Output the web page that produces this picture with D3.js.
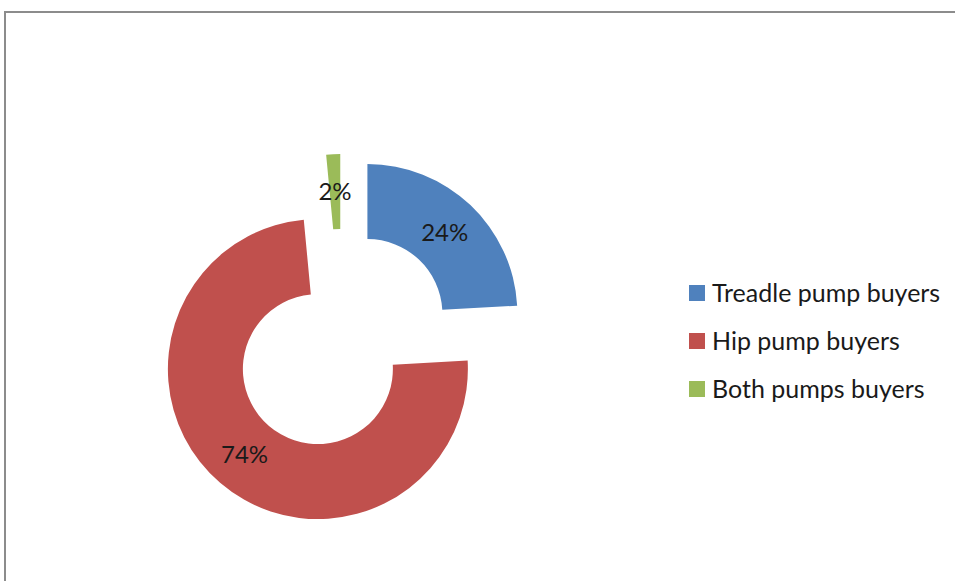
<!DOCTYPE html>
<html>
<head>
<meta charset="utf-8">
<script src="https://cdn.jsdelivr.net/npm/d3@7"></script>
<style>
    body { margin: 0; background: #fff; }
    svg { display: block; font-family: Lato, "Open Sans", sans-serif; }
</style>
</head>
<body>
<div id="chart"></div>
<script>
// values (labels show the rounded share)
let categories = ["Treadle pump buyers", "Hip pump buyers", "Both pumps buyers"];
let shares = [24.1, 74.4, 1.5];
let colors = ["#4F81BD", "#C0504D", "#9BBB59"];

let width = 955, height = 581;
let center = { "x": 342, "y": 341 };
let outerR = 150, innerR = 75, explode = 37;

let svg = d3.select('#chart')
    .append('svg')
    .attr('width', width)
    .attr('height', height);

// chart area frame (only top and left edges show)
svg.append('rect')
    .attr('x', 5)
    .attr('y', 12)
    .attr('width', 1000)
    .attr('height', 700)
    .attr('fill', 'none')
    .attr('stroke', '#8c8c8c')
    .attr('stroke-width', 2);

let total = d3.sum(shares);
let pie = d3.pie()
    .sort(null)
    .value(function(d) { return d; });
let arc = d3.arc()
    .innerRadius(innerR)
    .outerRadius(outerR);
let labelArc = d3.arc()
    .innerRadius((innerR + outerR) / 2)
    .outerRadius((innerR + outerR) / 2);

let arcs = pie(shares);

// each slice pushed out along its middle angle
function offset(d) {
    let a = (d.startAngle + d.endAngle) / 2;
    return [explode * Math.sin(a), -explode * Math.cos(a)];
}

let slices = svg.append('g')
    .attr('transform', 'translate(' + center.x + ',' + center.y + ')');

let slice = slices.selectAll('g.slice')
    .data(arcs)
    .enter()
    .append('g')
    .attr('class', 'slice')
    .attr('transform', function(d) {
        let o = offset(d);
        return 'translate(' + o[0] + ',' + o[1] + ')';
    });

slice.append('path')
    .attr('d', arc)
    .attr('fill', function(d, i) { return colors[i]; });

slice.append('text')
    .attr('transform', function(d) {
        return 'translate(' + labelArc.centroid(d) + ')';
    })
    .attr('text-anchor', 'middle')
    .attr('dy', '0.36em')
    .attr('font-size', 24)
    .attr('fill', '#1a1a1a')
    .text(function(d) { return Math.round(d.value / total * 100) + '%'; });

// legend
let legend = svg.append('g')
    .attr('transform', 'translate(689,285)');

let item = legend.selectAll('g.item')
    .data(categories)
    .enter()
    .append('g')
    .attr('class', 'item')
    .attr('transform', function(d, i) { return 'translate(0,' + (i * 48) + ')'; });

item.append('rect')
    .attr('width', 16)
    .attr('height', 16)
    .attr('fill', function(d, i) { return colors[i]; });

item.append('text')
    .attr('x', 23)
    .attr('y', 8)
    .attr('dy', '0.36em')
    .attr('font-size', 25)
    .attr('fill', '#1a1a1a')
    .text(function(d) { return d; });
</script>
</body>
</html>
